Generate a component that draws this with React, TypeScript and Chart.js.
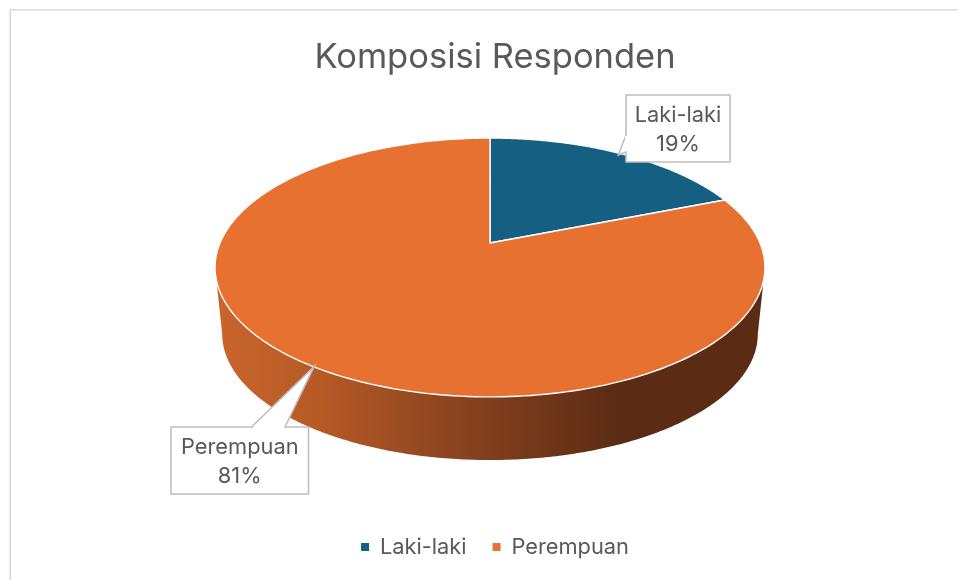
import React, { useEffect, useRef } from "react";
import { Chart, registerables } from "chart.js";

Chart.register(...registerables);

const categories = ["Laki-laki", "Perempuan"];
const shares = [19, 81];
const sliceColors = ["#156082", "#E77130"];
const chartTitle = "Komposisi Responden";

const FONT = "Inter, 'Noto Sans', sans-serif";
const INK = "#595959";
const K = 0.189;
const TOP = { cx: 490, cy: 243, a: 270, b: 124.8 };
const BASE = { cx: 490, cy: 310, a: 263, b: 121.7 };

type Ring = typeof TOP;
const project = (r: Ring, theta: number) => {
  const u = Math.sin(theta);
  const v = -Math.cos(theta);
  const w = 1 - K * v;
  return { x: r.cx + (r.a * u) / w, y: r.cy + (r.b * v) / w };
};

const trace = (ctx: CanvasRenderingContext2D, r: Ring, from: number, to: number, join: boolean) => {
  const n = 240;
  for (let i = 0; i <= n; i++) {
    const p = project(r, from + ((to - from) * i) / n);
    if (i === 0 && !join) ctx.moveTo(p.x, p.y);
    else ctx.lineTo(p.x, p.y);
  }
};

const pie3d = {
  id: "pie3d",
  beforeDraw(chart: any) {
    const { ctx, width, height } = chart;
    ctx.save();
    ctx.fillStyle = "#ffffff";
    ctx.fillRect(0, 0, width, height);
    ctx.strokeStyle = "#d9d9d9";
    ctx.lineWidth = 1.6;
    ctx.beginPath();
    ctx.moveTo(width, 9.8);
    ctx.lineTo(10.3, 9.8);
    ctx.lineTo(10.3, height);
    ctx.stroke();
    ctx.restore();
  },
  beforeDatasetsDraw(chart: any) {
    const { ctx } = chart;
    const arcs = chart.getDatasetMeta(0).data;
    ctx.save();
    // side wall
    const g = ctx.createLinearGradient(222, 0, 620, 0);
    g.addColorStop(0, "#C8652C");
    g.addColorStop(0.25, "#B65925");
    g.addColorStop(0.55, "#8E4620");
    g.addColorStop(1, "#5B2B14");
    ctx.fillStyle = g;
    ctx.beginPath();
    const right = Math.PI * 0.5 + 0.19;
    const left = Math.PI * 1.5 - 0.19;
    trace(ctx, TOP, right, left, false);
    trace(ctx, BASE, left, right, true);
    ctx.closePath();
    ctx.fill();
    // top surface, from the library's arc angles
    arcs.forEach((arc: any, i: number) => {
      const { startAngle, endAngle } = arc.getProps(["startAngle", "endAngle"], true);
      ctx.beginPath();
      ctx.moveTo(TOP.cx, TOP.cy);
      trace(ctx, TOP, startAngle + Math.PI / 2, endAngle + Math.PI / 2, true);
      ctx.closePath();
      ctx.fillStyle = sliceColors[i];
      ctx.fill();
      ctx.strokeStyle = "#ffffff";
      ctx.lineWidth = 1.4;
      ctx.lineJoin = "round";
      ctx.stroke();
    });
    ctx.restore();
    return false;
  },
  afterDraw(chart: any) {
    const { ctx } = chart;
    const data = chart.data.datasets[0].data;
    const boxes = [
      { x: 626, y: 95, w: 104, h: 67, wedge: [[626, 135], [618.3, 155], [626, 152]], t1: 115, t2: 144 },
      { x: 171, y: 427, w: 137.5, h: 67, wedge: [[251.5, 427], [314, 366.7], [285, 427]], t1: 447, t2: 476 },
    ];
    ctx.save();
    boxes.forEach((b, i) => {
      ctx.strokeStyle = "#BFBFBF";
      ctx.lineWidth = 1.6;
      ctx.fillStyle = "#ffffff";
      ctx.beginPath();
      ctx.rect(b.x, b.y, b.w, b.h);
      ctx.fill();
      ctx.stroke();
      ctx.beginPath();
      ctx.moveTo(b.wedge[0][0], b.wedge[0][1]);
      ctx.lineTo(b.wedge[1][0], b.wedge[1][1]);
      ctx.lineTo(b.wedge[2][0], b.wedge[2][1]);
      ctx.fill();
      ctx.stroke();
      // hide the seam between wedge and box
      ctx.beginPath();
      if (i === 0) ctx.rect(b.x - 1, b.wedge[0][1] + 1, 2.4, b.wedge[2][1] - b.wedge[0][1] - 2);
      else ctx.rect(b.wedge[0][0] + 2, b.y - 1, b.wedge[2][0] - b.wedge[0][0] - 3, 2.4);
      ctx.fill();
      ctx.fillStyle = INK;
      ctx.font = `21.8px ${FONT}`;
      ctx.textAlign = "center";
      ctx.textBaseline = "middle";
      ctx.fillText(categories[i], b.x + b.w / 2, b.t1);
      ctx.fillText(`${data[i]}%`, b.x + b.w / 2, b.t2);
    });
    ctx.restore();
  },
};

export default function App() {
  const ref = useRef<HTMLCanvasElement>(null);
  useEffect(() => {
    document.body.style.margin = "0";
    const chart = new Chart(ref.current!, {
      type: "pie",
      data: {
        labels: categories,
        datasets: [{ data: shares, backgroundColor: sliceColors, borderWidth: 0 }],
      },
      plugins: [pie3d],
      options: {
        responsive: false,
        animation: false,
        layout: { padding: { left: 32, top: 37, bottom: 12 } },
        plugins: {
          title: {
            display: true,
            text: chartTitle,
            color: INK,
            font: { family: FONT, size: 34.5, weight: "normal" },
            padding: 0,
          },
          legend: {
            position: "bottom",
            labels: {
              usePointStyle: true,
              pointStyle: "rect",
              boxWidth: 8,
              boxHeight: 8,
              color: INK,
              padding: 26,
              font: { family: FONT, size: 21.8 },
            },
          },
          tooltip: { enabled: false },
        },
      },
    } as any);
    return () => chart.destroy();
  }, []);
  return <canvas ref={ref} width={958} height={580} style={{ display: "block" }} />;
}
